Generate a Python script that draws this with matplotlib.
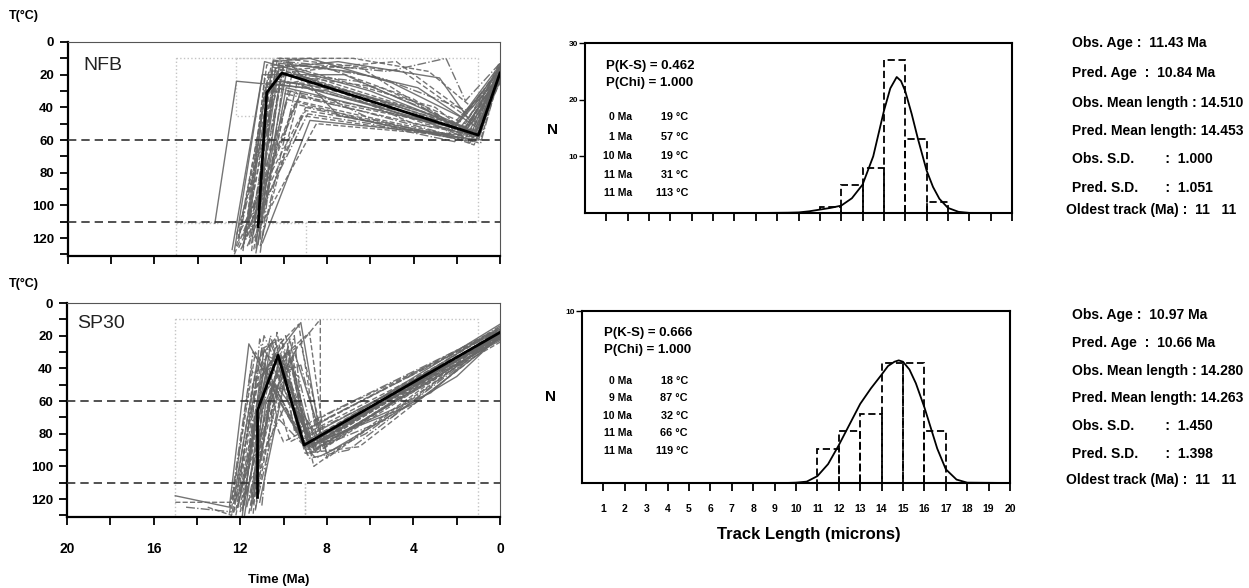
import numpy as np
import matplotlib
matplotlib.use("Agg")
import matplotlib.pyplot as plt

plt.rcParams['font.family'] = ['Liberation Sans', 'DejaVu Sans']

W, H = 1249, 588

# ---- time-temperature paths (Ma, degC) ----
nfb_best = [(11.2, 113), (10.8, 31), (10.1, 19), (1.0, 57), (0.0, 19)]
sp30_best = [(11.2, 119), (11.2, 66), (11.1, 62), (10.25, 32), (9.05, 87), (0.0, 18)]

nfb_paths = [
    [(12.3, 128), (10.9, 12), (6.0, 30), (1.2, 55), (0, 15)],
    [(12.2, 125), (10.6, 15), (5.0, 38), (1.0, 58), (0, 20)],
    [(12.1, 120), (10.4, 22), (7.0, 35), (1.5, 52), (0, 18)],
    [(11.9, 126), (10.2, 10), (4.5, 18), (1.3, 48), (0, 12)],
    [(11.8, 118), (10.8, 25), (8.0, 30), (2.0, 55), (0, 22)],
    [(11.6, 124), (10.0, 14), (3.0, 40), (1.1, 60), (0, 24)],
    [(11.5, 112), (10.5, 30), (6.5, 42), (0.9, 62), (0, 19)],
    [(11.4, 127), (10.1, 20), (5.5, 28), (1.6, 50), (0, 16)],
    [(11.3, 122), (9.8, 12), (7.5, 45), (2.5, 58), (0, 21)],
    [(11.2, 116), (9.6, 18), (4.0, 50), (1.2, 57), (0, 25)],
    [(11.1, 125), (9.4, 25), (6.0, 47), (1.8, 60), (0, 14)],
    [(11.0, 110), (9.9, 35), (5.0, 52), (1.4, 58), (0, 18)],
    [(11.0, 123), (8.8, 48), (3.5, 55), (1.0, 60), (0, 20)],
    [(11.4, 120), (8.5, 50), (2.5, 57), (1.2, 63), (0, 22)],
    [(11.7, 125), (9.0, 40), (4.2, 54), (1.3, 61), (0, 17)],
    [(12.0, 115), (9.2, 45), (5.0, 53), (1.5, 57), (0, 23)],
    [(13.2, 111), (12.2, 24), (9.0, 28), (1.7, 54), (0, 20)],
    [(11.8, 121), (10.3, 10), (6.8, 10), (3.3, 18), (1.3, 40), (0, 15)],
    [(11.5, 117), (10.0, 12), (5.2, 18), (2.5, 10), (1.6, 36), (0, 13)],
    [(12.1, 122), (10.7, 18), (4.8, 12), (1.4, 45), (0, 16)],
    [(11.3, 126), (10.4, 16), (7.5, 12), (2.8, 22), (1.3, 50), (0, 20)],
    [(11.6, 113), (10.9, 28), (8.5, 22), (3.0, 45), (1.1, 55), (0, 18)],
    [(11.9, 119), (9.7, 30), (6.2, 40), (2.2, 52), (0, 21)],
    [(12.3, 130), (9.5, 38), (5.8, 48), (1.9, 59), (0, 19)],
    [(11.2, 124), (10.2, 24), (7.0, 30), (3.8, 42), (1.5, 53), (0, 24)],
    [(11.0, 119), (9.3, 33), (3.6, 48), (0.9, 56), (0, 16)],
    [(12.0, 127), (8.9, 44), (6.0, 50), (2.1, 61), (0, 22)],
    [(11.5, 128), (10.6, 20), (8.0, 16), (4.0, 35), (1.2, 59), (0, 20)],
    [(11.7, 111), (10.5, 12), (8.8, 10), (5.0, 25), (1.8, 46), (0, 14)],
    [(12.2, 118), (10.3, 28), (7.8, 38), (3.2, 52), (1.0, 54), (0, 13)],
    [(11.1, 129), (10.0, 19), (6.6, 24), (2.9, 44), (1.4, 62), (0, 23)],
    [(11.9, 124), (9.1, 26), (5.6, 36), (2.4, 49), (1.1, 57), (0, 17)],
    [(12.4, 127), (11.0, 20), (7.2, 20), (2.0, 50), (0, 17)],
    [(11.9, 128), (10.8, 14), (6.4, 16), (1.7, 56), (0, 21)],
    [(11.6, 120), (10.3, 18), (5.8, 35), (1.2, 61), (0, 23)],
    [(12.0, 112), (10.6, 24), (8.2, 26), (3.5, 50), (1.0, 58), (0, 18)],
    [(11.3, 129), (9.9, 28), (4.6, 45), (1.3, 55), (0, 15)],
    [(11.8, 116), (9.4, 36), (6.8, 44), (2.6, 56), (0, 20)],
    [(11.1, 121), (10.5, 11), (9.2, 14), (5.5, 22), (1.5, 42), (0, 16)],
    [(12.1, 126), (9.0, 42), (5.3, 50), (1.6, 59), (0, 19)],
    [(11.5, 123), (10.2, 13), (7.0, 18), (3.8, 28), (1.1, 52), (0, 22)],
    [(11.7, 119), (10.9, 22), (9.5, 20), (2.7, 48), (0.9, 60), (0, 20)],
]

sp30_paths = [
    [(15.0, 118), (12.5, 125), (11.6, 25), (9.0, 88), (0, 15)],
    [(15.0, 122), (12.4, 122), (11.3, 30), (8.8, 90), (0, 18)],
    [(14.5, 125), (12.3, 128), (10.9, 20), (8.7, 85), (0, 20)],
    [(12.4, 126), (11.5, 40), (10.0, 85), (0, 16)],
    [(12.3, 120), (11.2, 35), (10.4, 22), (9.2, 84), (0, 19)],
    [(12.2, 130), (11.0, 45), (10.3, 30), (8.5, 92), (0, 21)],
    [(12.1, 124), (10.6, 20), (9.4, 80), (0, 17)],
    [(12.0, 118), (10.4, 28), (9.3, 13), (8.4, 88), (0, 22)],
    [(11.9, 127), (10.8, 32), (9.6, 40), (8.9, 86), (0, 18)],
    [(11.8, 121), (10.2, 35), (8.8, 18), (8.0, 95), (0, 20)],
    [(11.7, 125), (10.0, 25), (9.0, 90), (0, 14)],
    [(11.6, 129), (10.5, 50), (9.7, 85), (0, 19)],
    [(11.5, 119), (10.7, 38), (9.2, 12), (8.3, 82), (0, 23)],
    [(11.4, 123), (9.8, 30), (8.6, 100), (0, 18)],
    [(11.3, 126), (9.5, 20), (9.1, 75), (0, 16)],
    [(11.2, 118), (10.1, 40), (9.0, 92), (6.5, 88), (0, 21)],
    [(11.1, 122), (9.9, 45), (8.7, 87), (3.2, 55), (0, 17)],
    [(12.0, 128), (10.9, 55), (9.6, 35), (8.8, 89), (0, 20)],
    [(11.8, 124), (11.1, 22), (10.3, 70), (8.5, 95), (6.2, 80), (0, 19)],
    [(12.2, 120), (9.4, 28), (8.3, 10), (8.3, 90), (0, 18)],
    [(11.5, 127), (10.6, 60), (9.5, 30), (8.0, 92), (2.0, 45), (0, 20)],
    [(13.5, 125), (12.4, 130), (11.0, 35), (9.3, 80), (0, 15)],
    [(11.9, 119), (10.0, 65), (9.1, 82), (0, 22)],
    [(11.3, 127), (10.3, 18), (9.5, 78), (0, 17)],
    [(12.1, 125), (10.8, 42), (9.8, 60), (8.6, 86), (4.0, 62), (0, 21)],
    [(11.6, 121), (9.7, 22), (8.9, 88), (0, 18)],
    [(11.0, 124), (10.4, 50), (8.8, 95), (7.0, 90), (0, 20)],
    [(12.3, 123), (11.4, 48), (9.2, 25), (8.1, 88), (0, 16)],
    [(11.9, 130), (10.9, 28), (9.9, 55), (8.7, 84), (0, 13)],
    [(11.4, 120), (10.2, 33), (9.0, 70), (8.2, 86), (0, 24)],
    [(12.5, 129), (11.4, 30), (10.2, 60), (8.9, 90), (0, 17)],
    [(12.2, 127), (11.2, 50), (9.9, 20), (8.7, 92), (0, 20)],
    [(11.8, 130), (10.6, 25), (9.4, 60), (8.4, 85), (0, 19)],
    [(12.0, 125), (10.9, 40), (9.7, 48), (8.9, 84), (0, 21)],
    [(11.7, 118), (10.5, 35), (9.3, 45), (8.5, 89), (5.0, 70), (0, 18)],
    [(12.3, 128), (11.0, 28), (10.1, 22), (9.1, 86), (0, 16)],
    [(11.5, 124), (10.8, 60), (9.8, 28), (8.6, 90), (0, 22)],
    [(12.1, 119), (11.3, 42), (10.0, 35), (8.9, 93), (0, 19)],
    [(11.9, 126), (10.4, 45), (9.2, 38), (8.3, 84), (0, 20)],
    [(11.4, 129), (10.9, 48), (9.6, 55), (8.8, 88), (0, 17)],
]

# constraint boxes (t_old, t_young, T_top, T_bottom)
nfb_boxes = [(15, 1, 10, 110), (15, 9, 111, 131), (12.2, 10.2, 10, 45)]
sp30_boxes = [(15, 1, 10, 131), (9, 9, 110, 131)]

nfb_best_lines = ['0 Ma', '1 Ma', '10 Ma', '11 Ma', '11 Ma']
nfb_best_temps = ['19 °C', '57 °C', '19 °C', '31 °C', '113 °C']
sp30_best_lines = ['0 Ma', '9 Ma', '10 Ma', '11 Ma', '11 Ma']
sp30_best_temps = ['18 °C', '87 °C', '32 °C', '66 °C', '119 °C']

# ---- track length histograms ----
bin_left = [11, 12, 13, 14, 15, 16]
nfb_counts = [1, 5, 8, 27, 13, 2]
sp30_counts = [2, 3, 4, 7, 7, 3]

curve_x = [4.5, 8.0, 9.5, 10.0, 10.5, 11.0, 11.5, 12.0, 12.5, 13.0, 13.5, 14.0,
           14.3, 14.6, 14.8, 15.0, 15.3, 15.6, 16.0, 16.3, 16.6, 17.0, 17.5, 18.0, 20.0]
nfb_curve = [0, 0, 0.05, 0.1, 0.3, 0.6, 0.9, 1.3, 2.6, 5.0, 10.0, 18.0,
             22.0, 24.0, 23.3, 21.5, 17.5, 13.0, 7.5, 4.6, 2.5, 0.9, 0.2, 0.02, 0]
sp30_curve = [0, 0, 0, 0.02, 0.08, 0.4, 1.1, 2.2, 3.4, 4.6, 5.5, 6.3,
              6.8, 7.05, 7.13, 7.05, 6.6, 5.8, 4.4, 3.2, 2.0, 0.8, 0.2, 0.02, 0]

nfb_stats = ['Obs. Age :  11.43 Ma', 'Pred. Age  :  10.84 Ma', 'Obs. Mean length : 14.510',
             'Pred. Mean length: 14.453', 'Obs. S.D.        :  1.000', 'Pred. S.D.       :  1.051']
sp30_stats = ['Obs. Age :  10.97 Ma', 'Pred. Age  :  10.66 Ma', 'Obs. Mean length : 14.280',
              'Pred. Mean length: 14.263', 'Obs. S.D.        :  1.450', 'Pred. S.D.       :  1.398']
oldest = 'Oldest track (Ma) :  11   11'


def fx(px):
    return px / W


def fy(py):
    return 1 - py / H


def ax_rect(l, t, r, b):
    return [fx(l), fy(b), fx(r) - fx(l), fy(t) - fy(b)]


fig = plt.figure(figsize=(W / 100, H / 100), dpi=100)


def draw_tt(ax, paths, best, boxes, name, name_xy, show_x):
    styles = ['-', '--', '-.', (0, (4, 2))]
    for i, p in enumerate(paths):
        t, T = zip(*p)
        ax.plot(t, T, color='#666666', lw=1.0, ls=styles[i % 4], alpha=0.9, zorder=2)
    for (t0, t1, T0, T1) in boxes:
        ax.plot([t0, t1, t1, t0, t0], [T0, T0, T1, T1, T0], color='#c4c4c4',
                lw=1.0, ls=':', zorder=1)
    for lev in (60, 110):
        ax.axhline(lev, color='#333333', lw=1.2, ls=(0, (5, 3)), zorder=3)
    t, T = zip(*best)
    ax.plot(t, T, color='black', lw=2.0, zorder=4)
    ax.set_xlim(20, 0)
    ax.set_ylim(131, 0)
    ax.set_yticks(range(0, 131, 10))
    ax.set_yticklabels([str(v) if v % 20 == 0 else '' for v in range(0, 131, 10)],
                       fontsize=9.5, fontweight='bold')
    ax.set_xticks(range(0, 21, 2))
    if show_x:
        ax.set_xticklabels([str(v) if v % 4 == 0 else '' for v in range(0, 21, 2)],
                           fontsize=10, fontweight='bold')
    else:
        ax.set_xticklabels([])
    ax.tick_params(direction='out', length=6, width=1.3, pad=4)
    ax.tick_params(axis='x', pad=12)
    for s in ('top', 'right'):
        ax.spines[s].set_color('#555555')
        ax.spines[s].set_linewidth(0.8)
    for s in ('left', 'bottom'):
        ax.spines[s].set_linewidth(1.6)
    ax.text(name_xy[0], name_xy[1], name, transform=ax.transAxes, fontsize=14,
            va='center', ha='left', color='#222222')


def draw_hist(ax, counts, curve, ymax, show_x):
    ax.bar(bin_left, counts, width=1.0, align='edge', fill=False,
           edgecolor='black', lw=1.3, ls=(0, (4, 2)))
    ax.plot(curve_x, curve, color='black', lw=1.3)
    ax.set_xlim(0, 20)
    ax.set_ylim(0, ymax)
    ax.set_xticks(range(1, 21))
    if show_x:
        ax.set_xticklabels([str(v) for v in range(1, 21)], fontsize=7.5, fontweight='bold')
    else:
        ax.set_xticklabels([])
    yt = list(range(10, ymax + 1, 10))
    ax.set_yticks(yt)
    ax.set_yticklabels([str(v) for v in yt], fontsize=6, fontweight='bold')
    ax.tick_params(axis='x', direction='out', length=6, width=1.3, pad=9)
    ax.tick_params(axis='y', direction='out', length=4, width=1.0, pad=1)
    for s in ax.spines.values():
        s.set_linewidth(1.5)


ax1 = fig.add_axes(ax_rect(68, 42, 500, 256))
draw_tt(ax1, nfb_paths, nfb_best, nfb_boxes, 'NFB', (0.035, 0.89), False)
ax2 = fig.add_axes(ax_rect(67, 303, 500, 517))
draw_tt(ax2, sp30_paths, sp30_best, sp30_boxes, 'SP30', (0.023, 0.905), True)

fig.text(fx(9), fy(16), 'T(°C)', fontsize=9, fontweight='bold', va='center')
fig.text(fx(9), fy(284), 'T(°C)', fontsize=9, fontweight='bold', va='center')
fig.text(fx(279), fy(580), 'Time (Ma)', fontsize=9.5, fontweight='bold', ha='center', va='center')

ax3 = fig.add_axes(ax_rect(585, 43, 1012, 213))
draw_hist(ax3, nfb_counts, nfb_curve, 30, False)
ax4 = fig.add_axes(ax_rect(582, 311, 1010, 483))
draw_hist(ax4, sp30_counts, sp30_curve, 10, True)

fig.text(fx(809), fy(535), 'Track Length (microns)', fontsize=12, fontweight='bold',
         ha='center', va='center')
fig.text(fx(553), fy(130), 'N', fontsize=11, fontweight='bold', ha='center', va='center')
fig.text(fx(551), fy(397), 'N', fontsize=11, fontweight='bold', ha='center', va='center')


def hist_text(ks, chi, ma, temps, x0, y0, ys):
    fig.text(fx(x0), fy(y0), ks, fontsize=9.5, fontweight='bold', va='center')
    fig.text(fx(x0), fy(y0 + 17), chi, fontsize=9.5, fontweight='bold', va='center')
    for i, (m, t) in enumerate(zip(ma, temps)):
        fig.text(fx(632), fy(ys[i]), m, fontsize=7.5, fontweight='bold', ha='right', va='center')
        fig.text(fx(688), fy(ys[i]), t, fontsize=7.8, fontweight='bold', ha='right', va='center')


hist_text('P(K-S) = 0.462', 'P(Chi) = 1.000', nfb_best_lines, nfb_best_temps,
          606, 66, [117, 137, 156, 175, 193])
hist_text('P(K-S) = 0.666', 'P(Chi) = 1.000', sp30_best_lines, sp30_best_temps,
          604, 333, [381, 398, 416, 433, 451])

for y, s in zip([43, 73, 103, 131, 159, 188], nfb_stats):
    fig.text(fx(1072), fy(y), s, fontsize=10, fontweight='bold', va='center')
fig.text(fx(1066), fy(210), oldest, fontsize=10, fontweight='bold', va='center')
for y, s in zip([315, 343, 371, 398, 426, 454], sp30_stats):
    fig.text(fx(1072), fy(y), s, fontsize=10, fontweight='bold', va='center')
fig.text(fx(1066), fy(480), oldest, fontsize=10, fontweight='bold', va='center')

fig.savefig('out.png', dpi=100)
